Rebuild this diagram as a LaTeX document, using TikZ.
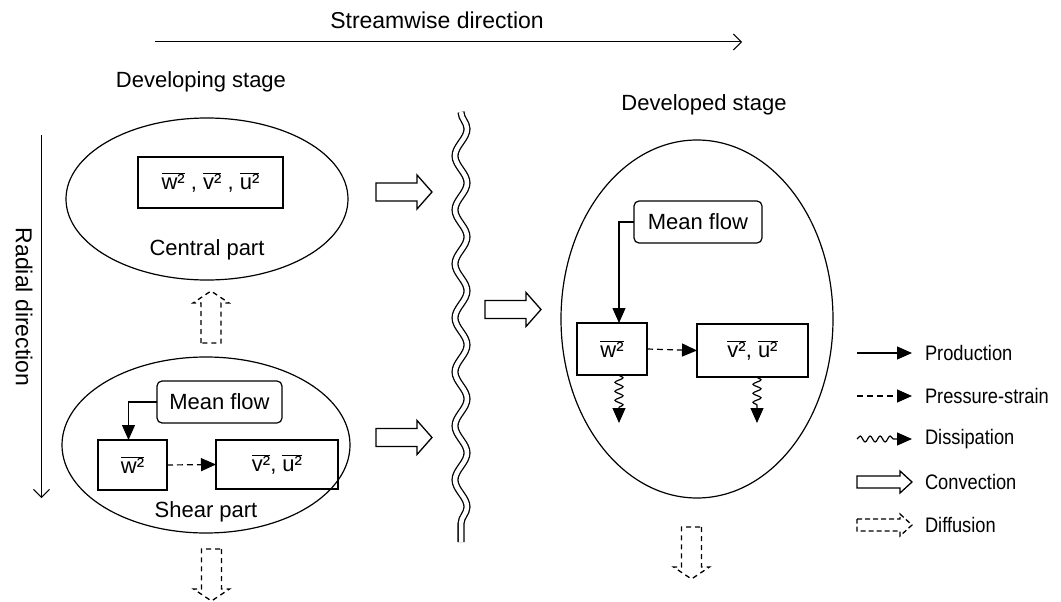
\documentclass[tikz,border=0pt]{standalone}
\usepackage{fontspec}
\setmainfont{Liberation Sans}
\usetikzlibrary{arrows.meta,decorations.pathmorphing,shapes.geometric}
\newcommand{\ov}[1]{$\overline{\mbox{#1}}$}
\begin{document}
\begin{tikzpicture}[x=1pt,y=-1pt,
  every node/.style={inner sep=0pt,outer sep=0pt},
  lbl/.style={font=\fontsize{22}{26}\selectfont},
  big/.style={font=\fontsize{23}{27}\selectfont},
  leg/.style={font=\fontsize{21}{25}\selectfont, anchor=west, xscale=0.87},
  oval/.style={draw, ellipse, line width=1.2pt},
  box/.style={draw, line width=1.2pt, font=\fontsize{22}{26}\selectfont},
  rbox/.style={box, rounded corners=5pt},
  openarrow/.style={line width=1pt, -{Straight Barb[length=8pt,width=16pt]}},
  prod/.style={line width=1.2pt, -{Triangle[length=15pt,width=13pt]}},
  press/.style={line width=1.2pt, dash pattern=on 6pt off 4pt, -{Triangle[length=15pt,width=13pt]}},
  diss/.style={line width=1.2pt, decorate, decoration={snake, amplitude=4pt, segment length=9pt, post length=14pt}, -{Triangle[length=15pt,width=13pt]}},
  conv/.pic={\draw[line width=1.3pt, pic actions] (0,-9) -- (41,-9) -- (41,-17) -- (56,0) -- (41,17) -- (41,9) -- (0,9) -- cycle;},
  convs/.pic={\draw[line width=1.3pt, pic actions] (0,-6) -- (43,-6) -- (43,-11) -- (55,0) -- (43,11) -- (43,6) -- (0,6) -- cycle;},
  diff/.pic={\draw[line width=1.3pt, dash pattern=on 5pt off 4pt, pic actions] (0,-10) -- (40,-10) -- (40,-18) -- (52,0) -- (40,18) -- (40,10) -- (0,10) -- cycle;},
  diffs/.pic={\draw[line width=1.3pt, dash pattern=on 5pt off 3pt, pic actions] (0,-6) -- (43,-6) -- (43,-11) -- (55,0) -- (43,11) -- (43,6) -- (0,6) -- cycle;}
]
\useasboundingbox[fill=white] (0,0) rectangle (1061,602);

% headings and axes
\node[big] (sw) at (437,20) {Streamwise direction};
\coordinate (sa) at (155,42);
\coordinate (sb) at (742,42);
\draw[openarrow] (sa) -- (sb);
\node[lbl] (dg) at (201,82) {Developing stage};
\node[lbl] (dd) at (704,105) {Developed stage};
\coordinate (ra) at (41.5,135);
\coordinate (rb) at (41.5,498);
\draw[openarrow] (ra) -- (rb);
\node[big, rotate=-90] (rd) at (24,307) {Radial direction};

% top-left ellipse: central part
\node[oval, minimum width=282pt, minimum height=162pt] (E1) at (207,199) {};
\node[box, minimum width=145pt, minimum height=51pt] (c1) at (210.5,182.5) {\ov{w²} , \ov{v²} , \ov{u²}};
\node[lbl] (cp) at (207,250) {Central part};

% bottom-left ellipse: shear part
\node[oval, minimum width=288pt, minimum height=176pt] (E2) at (206,445) {};
\node[rbox, minimum width=125pt, minimum height=42pt] (mf1) at (219.5,402) {Mean flow};
\node[box, minimum width=69pt, minimum height=50pt] (w1) at (132.5,465) {\ov{w²}};
\node[box, minimum width=122pt, minimum height=49pt] (v1) at (277,464.5) {\ov{v²}, \ov{u²}};
\node[lbl] (sp) at (206,512) {Shear part};
\draw[prod] (mf1.west) -| ([xshift=-4pt]w1.north);
\draw[press] (w1.east) -- (v1.west);

% right ellipse: developed stage
\node[oval, minimum width=272pt, minimum height=358pt] (E3) at (697,319) {};
\node[rbox, minimum width=128pt, minimum height=42pt] (mf2) at (698,222) {Mean flow};
\node[box, minimum width=70pt, minimum height=52pt] (w2) at (612,349) {\ov{w²}};
\node[box, minimum width=111pt, minimum height=53pt] (v2) at (752.5,350.5) {\ov{v²}, \ov{u²}};
\draw[prod] (mf2.west) -| ([xshift=7pt]w2.north);
\draw[press] (w2.east) -- (v2.west);
\coordinate (dw) at (619,423);
\coordinate (dv) at (757,423);
\draw[diss] ([xshift=7pt]w2.south) -- (dw);
\draw[diss] ([xshift=4.5pt]v2.south) -- (dv);

% wavy separation
\coordinate (wt) at (461,112);
\coordinate (wb) at (461,542);
\draw[double, double distance=4.5pt, line width=1.3pt, decorate, decoration={snake, amplitude=6pt, segment length=54pt}] (wt) -- (wb);

% convection arrows
\pic at (376,192) {conv};
\pic at (376,437.5) {conv};
\pic at (485,309.5) {conv};

% diffusion arrows
\pic[rotate=90] at (211,343) {diff};
\pic[rotate=-90] at (211.5,549) {diff};
\pic[rotate=-90] at (691.5,527) {diff};

% legend
\coordinate (l1a) at (857,353); \coordinate (l1b) at (912,353);
\draw[prod] (l1a) -- (l1b);
\node[leg] (t1) at (925,353) {Production};
\coordinate (l2a) at (857,396); \coordinate (l2b) at (912,396);
\draw[press] (l2a) -- (l2b);
\node[leg] (t2) at (925,396) {Pressure-strain};
\coordinate (l3a) at (857,439); \coordinate (l3b) at (912,439);
\draw[line width=1.2pt, decorate, decoration={snake, amplitude=3pt, segment length=10pt, post length=16pt}, -{Triangle[length=15pt,width=13pt]}] (l3a) -- (l3b);
\node[leg] (t3) at (925,439) {Dissipation};
\pic at (857,482) {convs};
\node[leg] (t4) at (925,482) {Convection};
\pic at (857,525) {diffs};
\node[leg] (t5) at (925,525) {Diffusion};
\end{tikzpicture}
\end{document}
